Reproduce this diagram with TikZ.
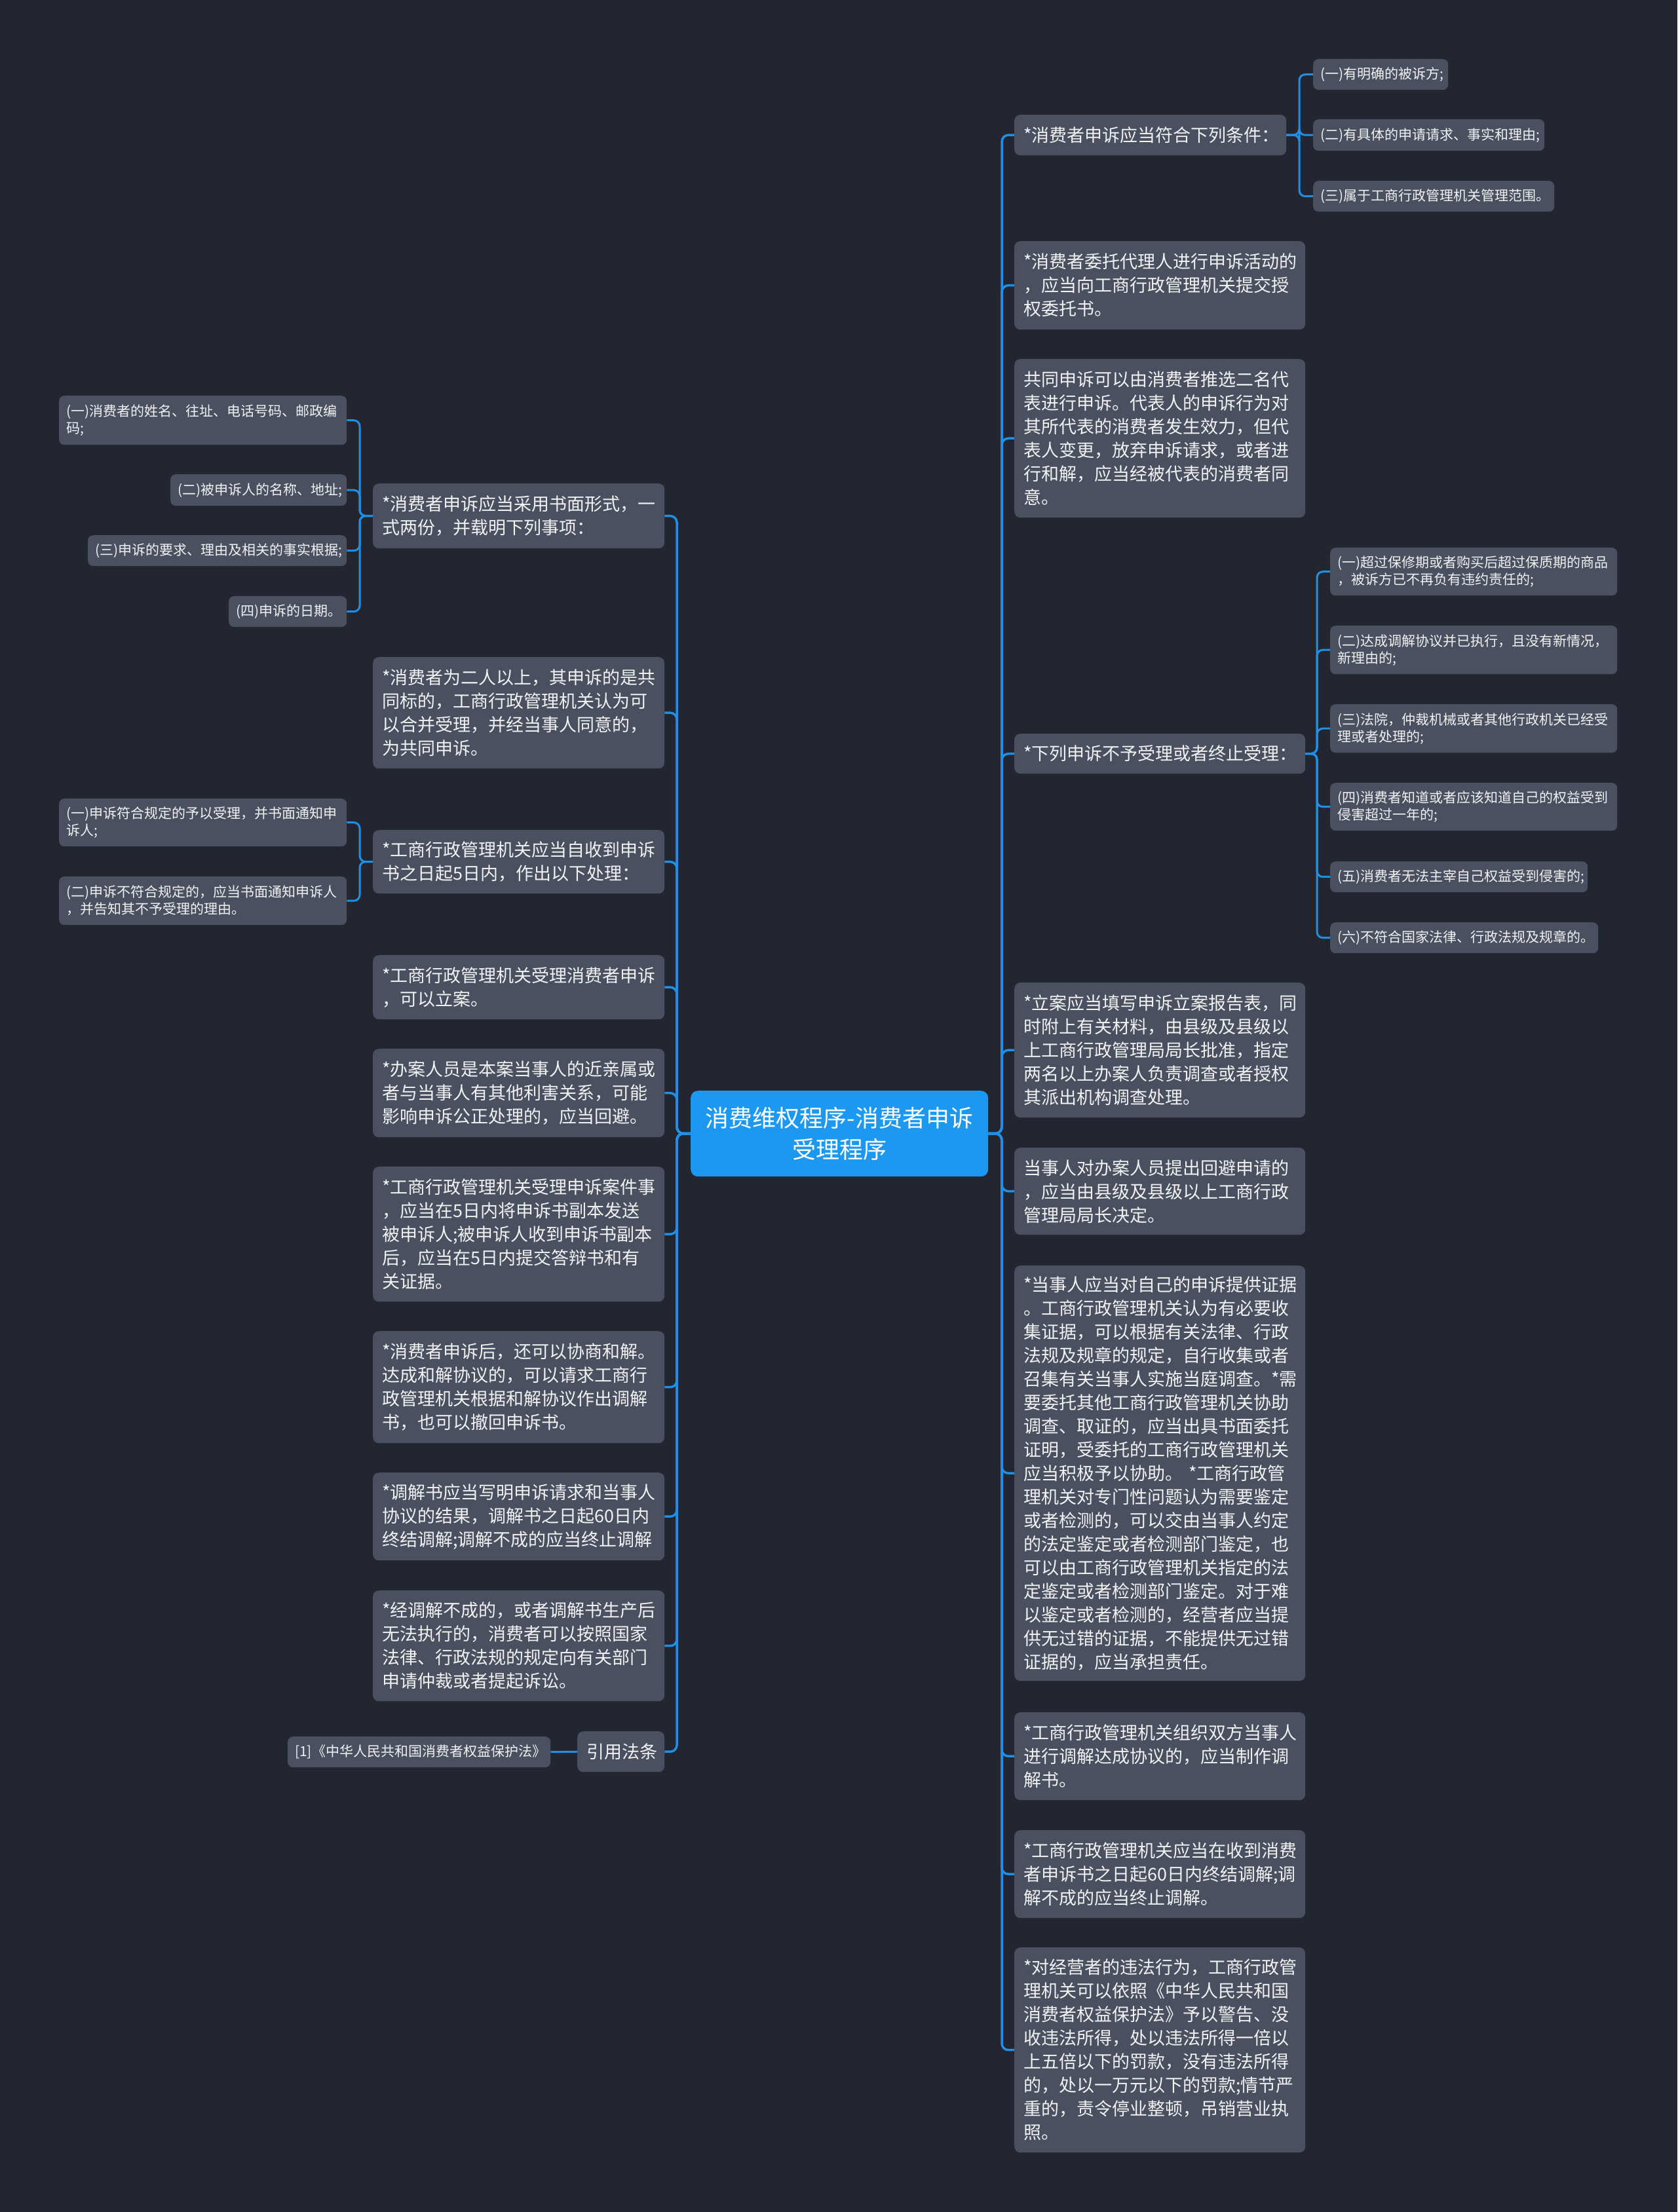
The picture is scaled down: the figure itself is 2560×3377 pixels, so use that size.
\documentclass[tikz,border=0pt]{standalone}
\usepackage{fontspec}
\setmainfont{Noto Sans CJK SC}
\definecolor{bgc}{RGB}{35,38,49}
\definecolor{nodec}{RGB}{74,80,96}
\definecolor{linec}{RGB}{30,144,230}
\definecolor{centc}{RGB}{28,152,240}
\definecolor{txtc}{RGB}{242,242,242}
\tikzset{
  mainbox/.style={anchor=north west, fill=nodec, rounded corners=9pt, text=txtc, align=left, inner xsep=14pt, inner ysep=0pt, font=\fontsize{27}{36}\selectfont},
  subbox/.style={anchor=north west, fill=nodec, rounded corners=8pt, text=txtc, align=left, inner xsep=11pt, inner ysep=0pt, font=\fontsize{21}{26}\selectfont},
  centbox/.style={anchor=north west, fill=centc, rounded corners=11pt, text=white, align=center, inner sep=0pt, font=\fontsize{36}{48}\selectfont},
  conn/.style={draw=linec, line width=3.5pt, rounded corners=10pt},
  subconn/.style={draw=linec, line width=3pt, rounded corners=9pt}
}
\newcommand\mn[6]{\pgfmathsetmacro\mytw{#4-28}\node[mainbox,text width=\mytw pt,minimum height=#5pt] (#1) at (#2,#3) {#6};}
\newcommand\sn[6]{\pgfmathsetmacro\mytw{#4-22}\node[subbox,text width=\mytw pt,minimum height=#5pt] (#1) at (#2,#3) {#6};}
\begin{document}
\begin{tikzpicture}[x=1pt,y=-1pt]
\fill[bgc] (0,0) rectangle (2560,3377);
\useasboundingbox (0,0) rectangle (2560,3377);

% centre
\node[centbox, minimum width=454pt, minimum height=131pt] (C) at (1054,1665) {消费维权程序-消费者申诉\\受理程序};

% right side
\mn{R1}{1548}{175}{415}{62}{*消费者申诉应当符合下列条件：}
\sn{R1a}{2004}{90}{206}{47}{(一)有明确的被诉方;}
\sn{R1b}{2004}{182}{353}{48}{(二)有具体的申请请求、事实和理由;}
\sn{R1c}{2004}{276}{368}{47}{(三)属于工商行政管理机关管理范围。}
\mn{R2}{1548}{368}{444}{135}{*消费者委托代理人进行申诉活动的\\，应当向工商行政管理机关提交授\\权委托书。}
\mn{R3}{1548}{548}{444}{242}{共同申诉可以由消费者推选二名代\\表进行申诉。代表人的申诉行为对\\其所代表的消费者发生效力，但代\\表人变更，放弃申诉请求，或者进\\行和解，应当经被代表的消费者同\\意。}
\mn{R4}{1548}{1120}{444}{61}{*下列申诉不予受理或者终止受理：}
\sn{R4a}{2030}{836}{438}{73}{(一)超过保修期或者购买后超过保质期的商品\\，被诉方已不再负有违约责任的;}
\sn{R4b}{2030}{955}{438}{74}{(二)达成调解协议并已执行，且没有新情况，\\新理由的;}
\sn{R4c}{2030}{1075}{438}{74}{(三)法院，仲裁机械或者其他行政机关已经受\\理或者处理的;}
\sn{R4d}{2030}{1195}{438}{73}{(四)消费者知道或者应该知道自己的权益受到\\侵害超过一年的;}
\sn{R4e}{2030}{1315}{393}{47}{(五)消费者无法主宰自己权益受到侵害的;}
\sn{R4f}{2030}{1408}{409}{47}{(六)不符合国家法律、行政法规及规章的。}
\mn{R5}{1548}{1500}{444}{206}{*立案应当填写申诉立案报告表，同\\时附上有关材料，由县级及县级以\\上工商行政管理局局长批准，指定\\两名以上办案人负责调查或者授权\\其派出机构调查处理。}
\mn{R6}{1548}{1752}{444}{133}{当事人对办案人员提出回避申请的\\，应当由县级及县级以上工商行政\\管理局局长决定。}
\mn{R7}{1548}{1932}{444}{634}{*当事人应当对自己的申诉提供证据\\。工商行政管理机关认为有必要收\\集证据，可以根据有关法律、行政\\法规及规章的规定，自行收集或者\\召集有关当事人实施当庭调查。*需\\要委托其他工商行政管理机关协助\\调查、取证的，应当出具书面委托\\证明，受委托的工商行政管理机关\\应当积极予以协助。~*工商行政管\\理机关对专门性问题认为需要鉴定\\或者检测的，可以交由当事人约定\\的法定鉴定或者检测部门鉴定，也\\可以由工商行政管理机关指定的法\\定鉴定或者检测部门鉴定。对于难\\以鉴定或者检测的，经营者应当提\\供无过错的证据，不能提供无过错\\证据的，应当承担责任。}
\mn{R8}{1548}{2614}{444}{134}{*工商行政管理机关组织双方当事人\\进行调解达成协议的，应当制作调\\解书。}
\mn{R9}{1548}{2794}{444}{134}{*工商行政管理机关应当在收到消费\\者申诉书之日起60日内终结调解;调\\解不成的应当终止调解。}
\mn{R10}{1548}{2973}{444}{313}{*对经营者的违法行为，工商行政管\\理机关可以依照《中华人民共和国\\消费者权益保护法》予以警告、没\\收违法所得，处以违法所得一倍以\\上五倍以下的罚款，没有违法所得\\的，处以一万元以下的罚款;情节严\\重的，责令停业整顿，吊销营业执\\照。}

% left side
\mn{L1}{569}{738}{445}{99}{*消费者申诉应当采用书面形式，一\\式两份，并载明下列事项：}
\sn{L1a}{90}{604}{439}{75}{(一)消费者的姓名、往址、电话号码、邮政编\\码;}
\sn{L1b}{260}{724}{269}{48}{(二)被申诉人的名称、地址;}
\sn{L1c}{134}{817}{395}{47}{(三)申诉的要求、理由及相关的事实根据;}
\sn{L1d}{349}{910}{180}{47}{(四)申诉的日期。}
\mn{L2}{569}{1003}{445}{170}{*消费者为二人以上，其申诉的是共\\同标的，工商行政管理机关认为可\\以合并受理，并经当事人同意的，\\为共同申诉。}
\mn{L3}{569}{1267}{445}{97}{*工商行政管理机关应当自收到申诉\\书之日起5日内，作出以下处理：}
\sn{L3a}{90}{1219}{439}{73}{(一)申诉符合规定的予以受理，并书面通知申\\诉人;}
\sn{L3b}{90}{1338}{439}{74}{(二)申诉不符合规定的，应当书面通知申诉人\\，并告知其不予受理的理由。}
\mn{L4}{569}{1458}{445}{98}{*工商行政管理机关受理消费者申诉\\，可以立案。}
\mn{L5}{569}{1601}{445}{135}{*办案人员是本案当事人的近亲属或\\者与当事人有其他利害关系，可能\\影响申诉公正处理的，应当回避。}
\mn{L6}{569}{1781}{445}{206}{*工商行政管理机关受理申诉案件事\\，应当在5日内将申诉书副本发送\\被申诉人;被申诉人收到申诉书副本\\后，应当在5日内提交答辩书和有\\关证据。}
\mn{L7}{569}{2032}{445}{171}{*消费者申诉后，还可以协商和解。\\达成和解协议的，可以请求工商行\\政管理机关根据和解协议作出调解\\书，也可以撤回申诉书。}
\mn{L8}{569}{2248}{445}{134}{*调解书应当写明申诉请求和当事人\\协议的结果，调解书之日起60日内\\终结调解;调解不成的应当终止调解}
\mn{L9}{569}{2428}{445}{169}{*经调解不成的，或者调解书生产后\\无法执行的，消费者可以按照国家\\法律、行政法规的规定向有关部门\\申请仲裁或者提起诉讼。}
\mn{L10}{881}{2643}{133}{62}{引用法条}
\sn{L10a}{439}{2651}{401}{47}{[1]《中华人民共和国消费者权益保护法》}

% junctions
\coordinate (rj) at (1529,1730.5);
\coordinate (lj) at (1033,1730.5);
\coordinate (r1j) at (1983,206);
\coordinate (r4j) at (2010,1150.5);
\coordinate (l1j) at (549,787.5);
\coordinate (l3j) at (549,1315.5);

% connectors
\foreach \n in {R1,R2,R3,R4,R5,R6,R7,R8,R9,R10}
  \draw[conn] (C.east) -- (rj) |- (\n.west);
\foreach \n in {L1,L2,L3,L4,L5,L6,L7,L8,L9,L10}
  \draw[conn] (C.west) -- (lj) |- (\n.east);
\foreach \n in {R1a,R1b,R1c}
  \draw[subconn] (R1.east) -- (r1j) |- (\n.west);
\foreach \n in {R4a,R4b,R4c,R4d,R4e,R4f}
  \draw[subconn] (R4.east) -- (r4j) |- (\n.west);
\foreach \n in {L1a,L1b,L1c,L1d}
  \draw[subconn] (L1.west) -- (l1j) |- (\n.east);
\foreach \n in {L3a,L3b}
  \draw[subconn] (L3.west) -- (l3j) |- (\n.east);
\draw[subconn] (L10.west) -- (L10a.east);
\end{tikzpicture}
\end{document}
